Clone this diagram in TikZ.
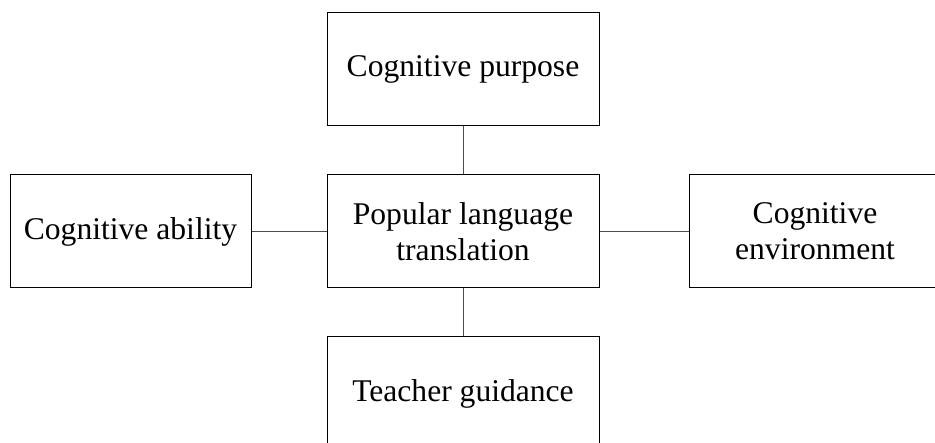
\documentclass[tikz,border=0pt]{standalone}
\usepackage{fontspec}
\setmainfont{Liberation Serif}
\begin{document}
\begin{tikzpicture}[x=1pt,y=1pt,
  box/.style={draw=black,line width=1pt,inner sep=0pt,align=center,
    font=\fontsize{31.6}{36}\selectfont,fill=white},
  link/.style={draw=black!70,line width=1pt}]
\useasboundingbox[fill=white] (0,0) rectangle (935,443);
\clip (0,0) rectangle (935,443);
\node[box,minimum width=272,minimum height=113] (top) at (463,443-69.5) {Cognitive purpose};
\node[box,minimum width=272,minimum height=113] (ctr) at (463,443-231.5) {Popular language\\translation};
\node[box,minimum width=241,minimum height=113] (lft) at (130.5,443-231.5) {Cognitive ability};
\node[box,minimum width=252,minimum height=113] (rgt) at (815,443-231.5) {Cognitive\\environment};
\node[box,minimum width=272,minimum height=113] (bot) at (463,443-393.5) {Teacher guidance};
\draw[link] (top) -- (ctr);
\draw[link] (ctr) -- (bot);
\draw[link] (lft) -- (ctr);
\draw[link] (ctr) -- (rgt);
\end{tikzpicture}
\end{document}
